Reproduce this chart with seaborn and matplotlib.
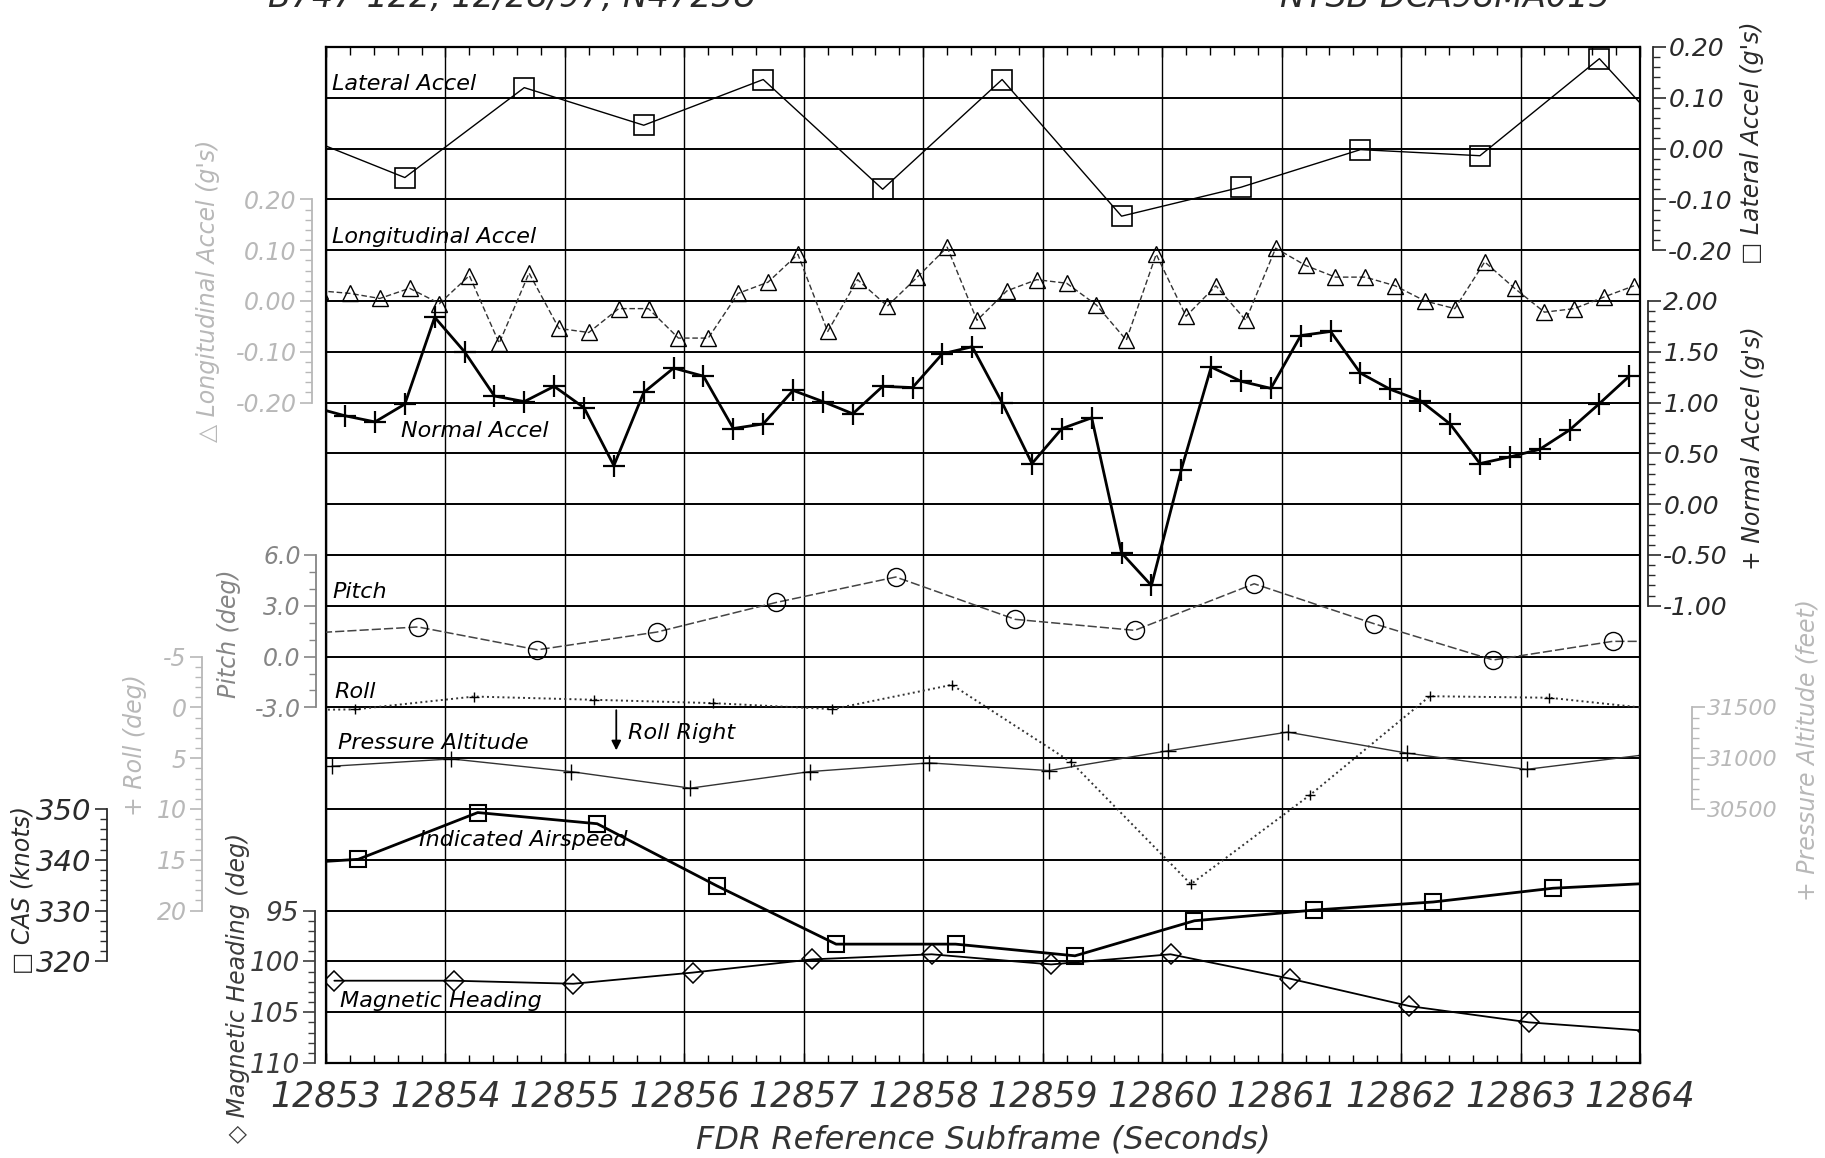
import numpy as np
import matplotlib
matplotlib.use("Agg")
import matplotlib.pyplot as plt
import seaborn as sns

# === FDR data === #
seconds = [12853, 12854, 12855, 12856, 12857, 12858, 12859, 12860, 12861, 12862, 12863, 12864]
second_labels = [str(s) for s in seconds]

# lateral accel (g's), 1 Hz
lat_t = [12852.66, 12853.66, 12854.66, 12855.66, 12856.66, 12857.66, 12858.66,
         12859.66, 12860.66, 12861.66, 12862.66, 12863.66, 12864.66]
lat_g = [0.037, -0.057, 0.12, 0.046, 0.136, -0.08, 0.136, -0.133, -0.076, -0.002, -0.014, 0.177, -0.079]

# longitudinal accel (g's), 4 Hz
long_g = [0.02, 0.015, 0.005, 0.025, -0.005, 0.05, -0.083, 0.055, -0.054,
          -0.062, -0.015, -0.015, -0.073, -0.073, 0.015, 0.037, 0.092, -0.06, 0.042,
          -0.01, 0.047, 0.106, -0.038, 0.02, 0.042, 0.035, -0.008, -0.077, 0.092,
          -0.03, 0.03, -0.038, 0.104, 0.07, 0.047, 0.047, 0.03, 0.0, -0.015,
          0.077, 0.025, -0.022, -0.015, 0.008, 0.03]
long_t = 12852.95 + 0.25 * np.arange(len(long_g))

# normal accel (g's), 4 Hz
norm_g = [0.95, 0.87, 0.81, 0.985, 1.84, 1.50, 1.065, 1.01, 1.16, 0.95, 0.38, 1.10,
          1.34, 1.26, 0.745, 0.79, 1.12, 1.01, 0.89, 1.16, 1.148, 1.48, 1.55, 1.0,
          0.40, 0.744, 0.85, -0.48, -0.80, 0.34, 1.35, 1.21, 1.14, 1.66, 1.70, 1.29,
          1.13, 1.02, 0.79, 0.40, 0.465, 0.54, 0.73, 0.99, 1.26]
norm_t = 12852.91 + 0.25 * np.arange(len(norm_g))

# pitch (deg), 1 Hz
pitch_t = [12852.77, 12853.77, 12854.77, 12855.77, 12856.77, 12857.77, 12858.77,
           12859.77, 12860.77, 12861.77, 12862.77, 12863.77, 12864.77]
pitch_deg = [1.35, 1.75, 0.4, 1.45, 3.2, 4.7, 2.2, 1.55, 4.3, 1.95, -0.2, 0.9, 0.9]

# roll (deg, right wing down positive), 1 Hz
roll_t = [12852.24, 12853.24, 12854.24, 12855.24, 12856.24, 12857.24, 12858.24,
          12859.24, 12860.24, 12861.24, 12862.24, 12863.24, 12864.24]
roll_deg = [0.3, 0.2, -1.07, -0.75, -0.42, 0.17, -2.22, 5.4, 17.4, 8.6, -1.1, -0.95, 0.3]

# pressure altitude (feet), 1 Hz
alt_t = [12853.05, 12854.05, 12855.05, 12856.05, 12857.05, 12858.05,
         12859.05, 12860.05, 12861.05, 12862.05, 12863.05, 12864.05]
alt_ft = [30921, 30993, 30868, 30705, 30868, 30954, 30878, 31073, 31257, 31050, 30890, 31035]

# computed airspeed (knots), 1 Hz
cas_t = [12852.27, 12853.27, 12854.27, 12855.27, 12856.27, 12857.27, 12858.27,
         12859.27, 12860.27, 12861.27, 12862.27, 12863.27, 12864.27]
cas_kt = [338.6, 340.1, 349.3, 347.1, 334.9, 323.4, 323.4, 321.1, 328.0, 330.1, 331.7, 334.4, 335.6]

# magnetic heading (deg), 1 Hz
hdg_t = [12853.07, 12854.07, 12855.07, 12856.07, 12857.07, 12858.07,
         12859.07, 12860.07, 12861.07, 12862.07, 12863.07, 12864.07]
hdg_deg = [101.9, 101.9, 102.2, 101.1, 99.8, 99.3, 100.3, 99.3, 101.7, 104.4, 106.0, 106.85]

# === Style === #
sns.set_theme(style="white")
plt.rcParams['font.family'] = ['DejaVu Sans']
plt.rcParams['font.style'] = 'italic'

FW, FH = 1825, 1158
fig = plt.figure(figsize=(FW / 100, FH / 100), dpi=100)
ax = fig.add_axes([326 / FW, 95 / FH, 1314 / FW, 1016 / FH])

# === Scale helper: one twin axis per channel, aligned to the 20-band grid === #
def add_scale(side, pos, lim, bounds, major, labels, minor, color, size):
    a = ax.twinx()
    for s in a.spines.values():
        s.set_visible(False)
    sp = a.spines[side]
    sp.set_visible(True)
    sp.set_position(('axes', pos))
    sp.set_bounds(*bounds)
    sp.set_color(color)
    sp.set_linewidth(1.3)
    a.yaxis.set_ticks_position(side)
    a.set_ylim(*lim)
    a.set_yticks(major, labels)
    a.set_yticks(minor, minor=True)
    a.tick_params(axis='y', which='major', direction='out', length=9, width=1.2,
                  color=color, labelcolor=color, labelsize=size, pad=2)
    a.tick_params(axis='y', which='minor', direction='out', length=5, width=1.0, color=color)
    return a

light = '#b8b8b8'
mid = '#858585'
dark = '#2a2a2a'

ax_lat = add_scale('right', 1.0099, (-1.8, 0.2), (-0.2, 0.2), [0.2, 0.1, 0.0, -0.1, -0.2],
                   ['0.20', '0.10', '0.00', '-0.10', '-0.20'], np.arange(-0.2, 0.201, 0.02), dark, 18)
ax_norm = add_scale('right', 1.0061, (-5.5, 4.5), (-1.0, 2.0), [2.0, 1.5, 1.0, 0.5, 0.0, -0.5, -1.0],
                    ['2.00', '1.50', '1.00', '0.50', '0.00', '-0.50', '-1.00'],
                    np.arange(-1.0, 2.01, 0.1), dark, 18)
ax_alt = add_scale('right', 1.0396, (28000, 38000), (30500, 31500), [31500, 31000, 30500],
                   ['31500', '31000', '30500'], np.arange(30500, 31501, 100), light, 16)
ax_long = add_scale('left', -0.0107, (-1.5, 0.5), (-0.2, 0.2), [0.2, 0.1, 0.0, -0.1, -0.2],
                    ['0.20', '0.10', '0.00', '-0.10', '-0.20'], np.arange(-0.2, 0.201, 0.02), light, 17)
ax_pitch = add_scale('left', -0.0076, (-24, 36), (-3, 6), [6, 3, 0, -3],
                     ['6.0', '3.0', '0.0', '-3.0'], np.arange(-3, 6.1, 1), mid, 17)
ax_roll = add_scale('left', -0.0944, (35, -65), (-5, 20), [-5, 0, 5, 10, 15, 20],
                    ['-5', '0', '5', '10', '15', '20'], np.arange(-5, 20.1, 1), light, 17)
ax_cas = add_scale('left', -0.1667, (300, 500), (320, 350), [350, 340, 330, 320],
                   ['350', '340', '330', '320'], np.arange(320, 351, 2), dark, 21)
ax_hdg = add_scale('left', -0.0084, (110, 10), (95, 110), [95, 100, 105, 110],
                   ['95', '100', '105', '110'], np.arange(95, 111, 1), '#3c3c3c', 19)

# === Series === #
def trace(a, t, v, marker, ms, lw, ls='-', color='black', mew=1.2):
    sns.lineplot(x=list(t), y=list(v), ax=a, color=color, lw=lw, linestyle=ls,
                 marker=marker, markersize=ms, markerfacecolor='none',
                 markeredgecolor='black', markeredgewidth=mew)

trace(ax_lat, lat_t, lat_g, 's', 14, 1.0)
trace(ax_long, long_t, long_g, '^', 11, 1.0, ls=(0, (4, 2)), color='#333333', mew=1.0)
trace(ax_norm, norm_t, norm_g, '+', 16, 2.0, mew=1.6)
trace(ax_pitch, pitch_t, pitch_deg, 'o', 13, 1.1, ls=(0, (6, 2)), color='#444444', mew=1.0)
trace(ax_roll, roll_t, roll_deg, '+', 7, 1.4, ls=':', color='#333333', mew=1.0)
trace(ax_alt, alt_t, alt_ft, '+', 12, 1.0, color='#333333', mew=1.0)
trace(ax_cas, cas_t, cas_kt, 's', 11, 2.0, mew=1.5)
trace(ax_hdg, hdg_t, hdg_deg, 'D', 10, 1.3, mew=1.1)

ax_roll.annotate('', xy=(12855.43, 4.5), xytext=(12855.43, 0.0),
                 arrowprops=dict(arrowstyle='-|>', color='black', lw=1.3, mutation_scale=14))

# === Frame, grid and axis text === #
ax.set_xlim(12853, 12864)
ax.set_ylim(0, 20)
ax.set_yticks(range(1, 20))
ax.set_xticks(seconds, second_labels)
ax.set_xticks(np.arange(12853, 12864.01, 0.2), minor=True)
ax.grid(axis='y', color='black', lw=1.4)
ax.grid(axis='x', color='black', lw=1.0)
ax.tick_params(axis='y', left=False, right=False, labelleft=False, labelright=False)
ax.tick_params(axis='x', which='both', direction='in', top=True, bottom=True, color='black')
ax.tick_params(axis='x', which='major', length=7, width=1.0, labelsize=25, pad=12, labelcolor='#333333')
ax.tick_params(axis='x', which='minor', length=6, width=1.0)
for s in ax.spines.values():
    s.set_color('black')
    s.set_linewidth(1.6)
ax.set_xlabel("FDR Reference Subframe (Seconds)", fontsize=23, labelpad=8, color='#333333')

series_names = [
    ("Lateral Accel", 12853.05, 19.27), ("Longitudinal Accel", 12853.05, 16.25),
    ("Normal Accel", 12853.63, 12.44), ("Pitch", 12853.05, 9.28),
    ("Roll", 12853.07, 7.31), ("Pressure Altitude", 12853.1, 6.30),
    ("Roll Right", 12855.53, 6.49), ("Indicated Airspeed", 12853.78, 4.38),
    ("Magnetic Heading", 12853.12, 1.22),
]
for name, tx, ty in series_names:
    ax.text(tx, ty, name, fontsize=16, ha='left', va='center', color='black', zorder=5)

axis_titles = [
    ("\u25a1 Lateral Accel (g's)", 1752, 143, dark),
    ("+ Normal Accel (g's)", 1753, 448, dark),
    ("+ Pressure Altitude (feet)", 1808, 750, light),
    ("\u25b3 Longitudinal Accel (g's)", 208, 291, light),
    ("Pitch (deg)", 229, 634, mid),
    ("+ Roll (deg)", 135, 745, light),
    ("\u25a1 CAS (knots)", 23, 890, dark),
    ("\u25c7 Magnetic Heading (deg)", 238, 988, '#3c3c3c'),
]
for txt, px, py, c in axis_titles:
    fig.text(px / FW, 1 - py / FH, txt, rotation=90, ha='center', va='center', fontsize=17, color=c)

# header line, clipped at the top edge as in the scan
fig.text(268 / FW, 1 - 7 / FH, "B747-122, 12/28/97, N4723U", fontsize=24, va='baseline', color=dark)
fig.text(1280 / FW, 1 - 7 / FH, "NTSB DCA98MA015", fontsize=24, va='baseline', color=dark)

fig.savefig("out.png", dpi=100)
